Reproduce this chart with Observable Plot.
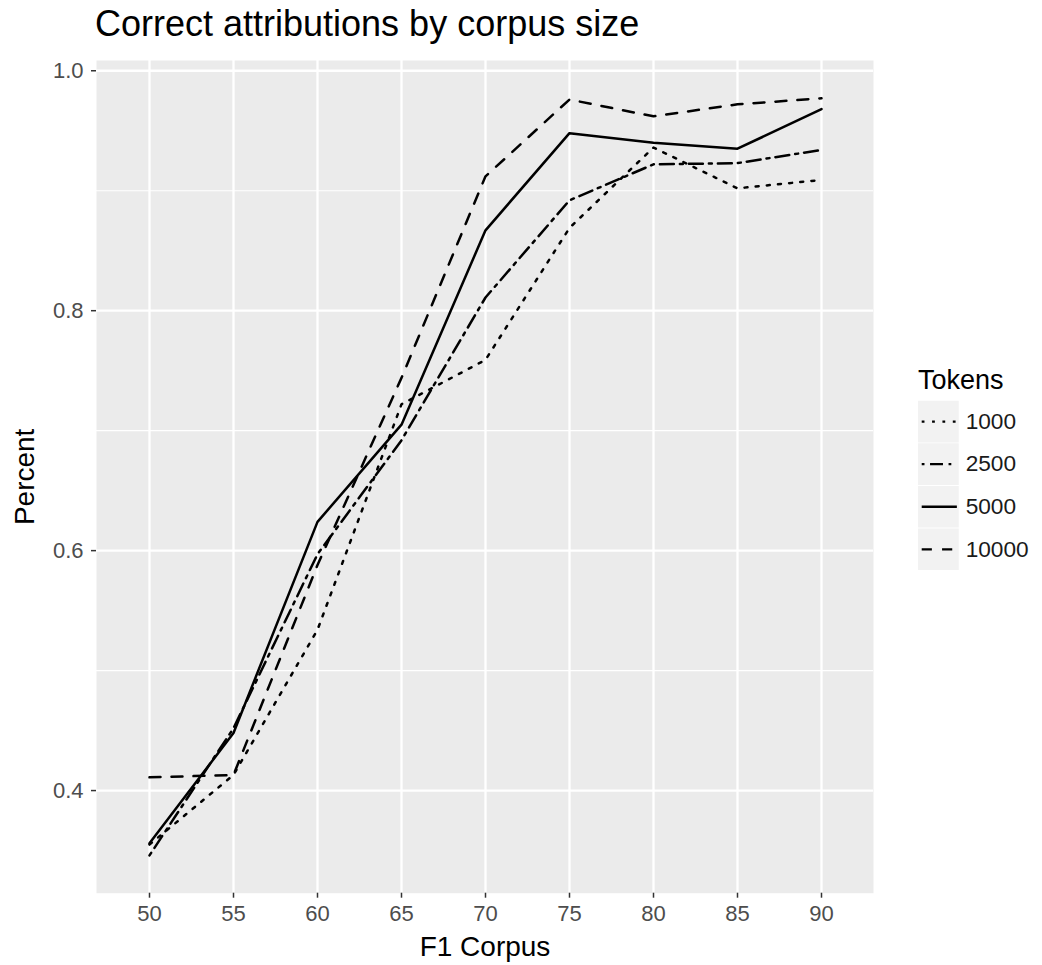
<!DOCTYPE html>
<html>
<head>
<meta charset="utf-8">
<script src="https://cdn.jsdelivr.net/npm/d3@7"></script>
<script src="https://cdn.jsdelivr.net/npm/@observablehq/plot@0.6"></script>
<style>
  html, body { margin: 0; padding: 0; background: #fff; }
  body { width: 1042px; height: 965px; position: relative; overflow: hidden;
         font-family: "Liberation Sans", Arial, sans-serif; }
  #title { position: absolute; left: 95px; top: 6px; font-size: 36px; line-height: 36px; color: #000; white-space: nowrap; }
  #chart { position: absolute; left: 0; top: 50px; }
  #legtitle { position: absolute; left: 918px; top: 367px; font-size: 27px; line-height: 27px; color: #000; }
  #legend { position: absolute; left: 918px; top: 398px; }
</style>
</head>
<body>
<div id="title">Correct attributions by corpus size</div>
<div id="chart"></div>
<div id="legtitle">Tokens</div>
<div id="legend"></div>
<script>
// ---- data ----
const corpus = [50, 55, 60, 65, 70, 75, 80, 85, 90];
const tokens = ["1000", "2500", "5000", "10000"];
const pct1000  = [0.355, 0.413, 0.534, 0.722, 0.759, 0.869, 0.936, 0.902, 0.909];
const pct2500  = [0.346, 0.452, 0.597, 0.692, 0.811, 0.892, 0.922, 0.923, 0.934];
const pct5000  = [0.356, 0.448, 0.624, 0.705, 0.867, 0.948, 0.940, 0.935, 0.968];
const pct10000 = [0.411, 0.413, 0.588, 0.744, 0.912, 0.976, 0.962, 0.972, 0.977];
const yMajor = [0.4, 0.6, 0.8, 1.0];
const yMinor = [0.5, 0.7, 0.9];

// ---- styles ----
const dash = { "1000": "3,8.2", "2500": "3,6,14,6", "5000": "none", "10000": "11,11" };
const seriesValues = { "1000": pct1000, "2500": pct2500, "5000": pct5000, "10000": pct10000 };

const rows = [];
for (const t of tokens) corpus.forEach((c, i) => rows.push({ tokens: t, corpus: c, pct: seriesValues[t][i] }));

// ggplot-like 5% expansion of the continuous y scale
const [ymin, ymax] = d3.extent(rows, d => d.pct);
const pad = (ymax - ymin) * 0.05;

const font = "Liberation Sans, Arial, sans-serif";

const lineMarks = tokens.map(t =>
  Plot.line(rows.filter(d => d.tokens === t), {
    x: "corpus", y: "pct", stroke: "#000", strokeWidth: 2.5,
    strokeDasharray: dash[t], strokeLinejoin: "round"
  })
);

const chart = Plot.plot({
  width: 880, height: 915,
  marginLeft: 96, marginRight: 7, marginTop: 10, marginBottom: 72.3,
  style: { fontFamily: font, background: "transparent", overflow: "visible" },
  x: { type: "point", domain: corpus, padding: 0.6 },
  y: { domain: [ymin - pad, ymax + pad] },
  marks: [
    Plot.frame({ fill: "#EBEBEB", stroke: "none" }),
    Plot.gridY(yMinor, { stroke: "#fff", strokeOpacity: 1, strokeWidth: 1.2 }),
    Plot.gridY(yMajor, { stroke: "#fff", strokeOpacity: 1, strokeWidth: 2.3 }),
    Plot.gridX(corpus, { stroke: "#fff", strokeOpacity: 1, strokeWidth: 2.3 }),
    ...lineMarks,
    Plot.axisY(yMajor, { tickSize: 5, text: null, label: null, stroke: "#333", strokeWidth: 1.5 }),
    Plot.axisY(yMajor, { tickSize: 0, tickPadding: 13, tickFormat: d3.format(".1f"), fontSize: 22, fill: "#4d4d4d", label: null }),
    Plot.axisX(corpus, { tickSize: 5, text: null, label: null, stroke: "#333", strokeWidth: 1.5 }),
    Plot.axisX(corpus, { tickSize: 0, tickPadding: 12, fontSize: 22, fill: "#4d4d4d", label: null }),
    Plot.text(["F1 Corpus"], { text: d => d, frameAnchor: "bottom", textAnchor: "middle", dy: 63, fontSize: 28, fill: "#000" }),
    Plot.text(["Percent"], { text: d => d, frameAnchor: "left", textAnchor: "middle", rotate: -90, dx: -71, fontSize: 28, fill: "#000" })
  ]
});
document.getElementById("chart").append(chart);

// ---- legend ----
const legend = Plot.plot({
  width: 134, height: 187,
  marginLeft: 0, marginRight: 90, marginTop: 0, marginBottom: 0,
  style: { fontFamily: font, background: "transparent", overflow: "visible" },
  y: { type: "point", domain: tokens, padding: 0.5, axis: null },
  marks: [
    Plot.ruleY(tokens, { y: d => d, stroke: "#F2F2F2", strokeWidth: 45 }),
    ...tokens.map(t => Plot.ruleY([t], { y: d => d, stroke: "#000", strokeWidth: 2.5,
      strokeDasharray: dash[t], insetLeft: 4, insetRight: 2 })),
    Plot.text(tokens, { y: d => d, text: d => d, frameAnchor: "right", textAnchor: "start",
      dx: 7, fontSize: 24.5, fill: "#1a1a1a" })
  ]
});
document.getElementById("legend").append(legend);
</script>
</body>
</html>
